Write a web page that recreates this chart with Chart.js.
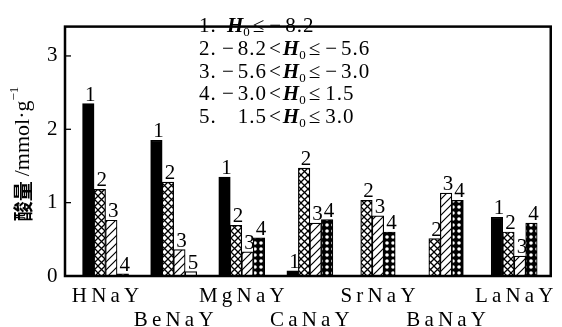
<!DOCTYPE html>
<html>
<head>
<meta charset="utf-8">
<script src="https://cdn.jsdelivr.net/npm/chart.js@4.4.1/dist/chart.umd.min.js"></script>
<style>
    html, body { margin: 0; padding: 0; background: #fff; }
    #wrap { width: 562px; height: 327px; position: relative; }
</style>
</head>
<body>
<div id="wrap"><canvas id="acidChart"></canvas></div>
<script>
const categories = ['HNaY', 'BeNaY', 'MgNaY', 'CaNaY', 'SrNaY', 'BaNaY', 'LaNaY'];

// acid amount (mmol/g) for each H0 range, null where the range is absent
const acid1 = [2.35, 1.85, 1.35, 0.07, null, null, 0.80];
const acid2 = [1.18, 1.28, 0.69, 1.47, 1.03, 0.51, 0.60];
const acid3 = [0.76, 0.36, 0.33, 0.72, 0.82, 1.13, 0.27];
const acid4 = [0.03, null, 0.52, 0.77, 0.60, 1.03, 0.72];
const acid5 = [null, 0.06, null, null, null, null, null];

const yTicks = [0, 1, 2, 3];

// H0 ranges for the key: lower bound (none for the first) and upper bound
const rangeLow = [null, '−8.2', '−5.6', '−3.0', '1.5'];
const rangeHigh = ['−8.2', '−5.6', '−3.0', '1.5', '3.0'];

const SERIF = "'Liberation Serif', 'Times New Roman', serif";
const THIN = '\u2009';

const canvas = document.getElementById('acidChart');
const ctx = canvas.getContext('2d');

// builds a repeating fill from a small tile
const makePattern = (size, draw) => {
    const tile = document.createElement('canvas');
    tile.width = tile.height = size;
    const g = tile.getContext('2d');
    g.fillStyle = '#fff';
    g.fillRect(0, 0, size, size);
    g.strokeStyle = '#000';
    g.fillStyle = '#000';
    draw(g, size);
    return ctx.createPattern(tile, 'repeat');
};

const crossFill = makePattern(7, (g, s) => {
    g.lineWidth = 1.3;
    g.beginPath();
    g.moveTo(0, 0); g.lineTo(s, s);
    g.moveTo(s, 0); g.lineTo(0, s);
    g.stroke();
});

const hatchFill = makePattern(8, (g, s) => {
    g.lineWidth = 1.2;
    g.beginPath();
    g.moveTo(0, s); g.lineTo(s, 0);
    g.moveTo(-1, 1); g.lineTo(1, -1);
    g.moveTo(s - 1, s + 1); g.lineTo(s + 1, s - 1);
    g.stroke();
});

const dotFill = makePattern(6, (g, s) => {
    g.fillRect(0, 0, s, s);
    g.fillStyle = '#fff';
    g.beginPath();
    g.arc(s / 2, s / 2, 1.8, 0, Math.PI * 2);
    g.fill();
});

const seriesData = [acid1, acid2, acid3, acid4, acid5];
const seriesFill = ['#000', crossFill, hatchFill, dotFill, '#fff'];

// draws a list of text runs left to right, returns the end x
const drawRuns = (c, x, y, runs) => {
    runs.forEach(run => {
        c.font = run.font;
        c.fillText(run.text, x, y + (run.dy || 0));
        x += c.measureText(run.text).width + (run.gap || 0);
    });
    return x;
};

const runsWidth = (c, runs) => runs.reduce((w, run) => {
    c.font = run.font;
    return w + c.measureText(run.text).width + (run.gap || 0);
}, 0);

// a signed number as runs, with a little air after the minus sign
const numberRuns = (text, font) => text.startsWith('−')
    ? [{ text: '−', font, gap: 3 }, { text: text.slice(1), font }]
    : [{ text, font }];

const framePlugin = {
    id: 'framePlugin',
    afterDatasetsDraw(chart) {
        const c = chart.ctx;
        c.save();
        c.fillStyle = '#000';
        c.font = `21px ${SERIF}`;
        c.textAlign = 'center';
        c.textBaseline = 'alphabetic';
        chart.data.datasets.forEach((ds, di) => {
            const meta = chart.getDatasetMeta(di);
            meta.data.forEach((bar, i) => {
                if (ds.data[i] === null) return;
                c.fillText(String(di + 1), bar.x + 2, bar.y - 3);
            });
        });
        c.restore();
    },
    afterDraw(chart) {
        const c = chart.ctx;
        const area = chart.chartArea;
        const yScale = chart.scales.y;
        const left = area.left - 6.5;
        const right = area.right + 2.5;

        c.save();

        // box around the plot
        c.strokeStyle = '#000';
        c.lineWidth = 2.5;
        c.strokeRect(left, area.top, right - left, area.bottom - area.top);

        // inward tick marks
        c.lineWidth = 1.3;
        yTicks.forEach(v => {
            const y = yScale.getPixelForValue(v);
            c.beginPath();
            c.moveTo(left, y);
            c.lineTo(left + 6, y);
            c.stroke();
        });

        // key with the H0 ranges
        c.fillStyle = '#000';
        c.textBaseline = 'alphabetic';
        c.textAlign = 'left';
        c.letterSpacing = '1px';
        const numFont = `21px ${SERIF}`;
        const hFont = `italic bold 21px ${SERIF}`;
        const subFont = `13px ${SERIF}`;
        rangeHigh.forEach((high, i) => {
            const y = 32 + i * 22.8;
            c.font = numFont;
            c.fillText(`${i + 1}.`, 199, y);
            let x = 227;
            if (rangeLow[i] !== null) {
                const lowRuns = numberRuns(rangeLow[i], numFont);
                x = drawRuns(c, 267 - runsWidth(c, lowRuns), y, lowRuns) + 2;
                x = drawRuns(c, x, y, [{ text: '<', font: numFont, gap: 1 }]);
            }
            drawRuns(c, x, y, [
                { text: 'H', font: hFont, gap: -1 },
                { text: '0', font: subFont, dy: 4, gap: 2 },
                { text: '≤', font: numFont, gap: 4 },
                ...numberRuns(high, numFont)
            ]);
        });

        // rotated axis title
        c.letterSpacing = '0px';
        c.translate(23, 154);
        c.rotate(-Math.PI / 2);
        c.textBaseline = 'middle';
        const titleRuns = [
            { text: '酸量', font: "bold 20px 'Noto Sans CJK SC'", gap: 5 },
            { text: '/mmol·g', font: `22px ${SERIF}` },
            { text: '−1', font: `13px ${SERIF}`, dy: -8 }
        ];
        drawRuns(c, -runsWidth(c, titleRuns) / 2, 0, titleRuns);
        c.restore();
    }
};

new Chart(ctx, {
    type: 'bar',
    data: {
        // category names set with thin spaces, every second one dropped a line
        labels: categories.map((name, i) => {
            const spaced = name.split('').join(THIN);
            return i % 2 === 1 ? ['', spaced] : spaced;
        }),
        datasets: seriesData.map((values, i) => ({
            label: String(i + 1),
            data: values,
            backgroundColor: seriesFill[i],
            borderColor: '#000',
            borderWidth: 1.2,
            barThickness: 11.5
        }))
    },
    options: {
        responsive: true,
        maintainAspectRatio: false,
        animation: false,
        skipNull: true,
        layout: { padding: { top: 13, right: 7, left: 0, bottom: 0 } },
        plugins: {
            legend: { display: false },
            tooltip: { enabled: false }
        },
        scales: {
            x: {
                grid: { display: false, drawTicks: false },
                border: { display: false },
                ticks: {
                    color: '#000',
                    font: { family: SERIF, size: 21, lineHeight: 1.15 },
                    padding: 8,
                    autoSkip: false,
                    maxRotation: 0
                },
                afterFit: (scale) => { scale.height = 51; }
            },
            y: {
                min: 0,
                max: 3.4,
                grid: { display: false, drawTicks: false },
                border: { display: false },
                ticks: {
                    color: '#000',
                    font: { family: SERIF, size: 21 },
                    padding: 14
                },
                afterBuildTicks: (scale) => {
                    scale.ticks = yTicks.map(v => ({ value: v }));
                },
                afterFit: (scale) => { scale.width = 71.5; }
            }
        }
    },
    plugins: [framePlugin]
});
</script>
</body>
</html>
